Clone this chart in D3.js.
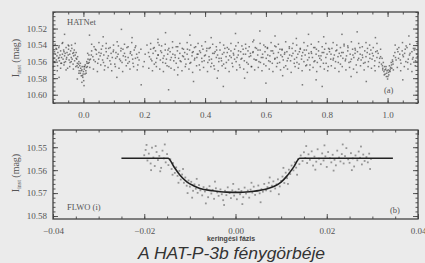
<!DOCTYPE html>
<html><head><meta charset="utf-8">
<script src="https://cdn.jsdelivr.net/npm/d3@7"></script>
<style>
html,body{margin:0;padding:0;background:#ebebeb;}
svg{display:block;}
</style></head>
<body>
<svg id="c" width="425" height="263"></svg>
<script>
// ---------- DATA ----------
const hatPhase = [
-0.097,-0.095,-0.094,-0.092,-0.090,-0.089,-0.087,-0.085,-0.084,-0.082,
-0.080,-0.079,-0.077,-0.075,-0.074,-0.072,-0.070,-0.069,-0.067,-0.065,
-0.064,-0.062,-0.060,-0.059,-0.057,-0.055,-0.054,-0.052,-0.050,-0.049,
-0.047,-0.045,-0.044,-0.042,-0.040,-0.039,-0.037,-0.035,-0.034,-0.032,
-0.030,-0.029,-0.027,-0.025,-0.024,-0.022,-0.020,-0.019,-0.017,-0.015,
-0.014,-0.012,-0.010,-0.009,-0.007,-0.005,-0.004,-0.002,0.000,0.001,
0.003,0.005,0.006,0.008,0.010,0.011,0.013,0.015,0.016,0.018,0.020,
0.023,0.027,0.031,0.035,0.039,0.043,0.047,0.051,0.055,0.059,
0.063,0.067,0.071,0.075,0.079,0.083,0.087,0.091,0.095,0.099,
0.103,0.107,0.111,0.115,0.119,0.123,0.127,0.131,0.135,0.139,
0.143,0.147,0.151,0.155,0.159,0.163,0.167,0.171,0.175,0.179,0.183,
0.217,0.221,0.225,0.229,0.233,0.237,0.241,0.245,0.249,0.253,
0.257,0.261,0.265,0.269,0.273,0.277,0.281,0.285,0.289,0.293,
0.297,0.301,0.305,0.309,0.313,0.317,0.321,0.325,0.329,0.333,
0.337,0.341,0.345,0.349,0.353,0.357,0.361,0.365,0.369,0.373,
0.377,0.381,0.385,0.389,0.393,0.397,0.401,0.405,0.409,0.413,
0.417,0.421,0.425,0.429,0.433,0.437,0.441,0.445,0.449,0.453,
0.457,0.461,0.465,0.469,0.473,0.477,0.481,0.485,0.489,0.493,
0.497,0.501,0.505,0.509,0.513,0.517,0.521,0.525,0.529,0.533,
0.537,0.541,0.545,0.549,0.553,0.557,0.561,0.565,0.569,0.573,
0.577,0.581,0.585,0.589,0.593,0.597,0.601,0.605,0.609,0.613,
0.617,0.621,0.625,0.629,0.633,0.637,0.641,0.645,0.649,0.653,
0.657,0.661,0.665,0.669,0.673,0.677,0.681,0.685,0.689,0.693,
0.697,0.701,0.705,0.709,0.713,0.717,0.721,0.725,0.729,0.733,
0.737,0.741,0.745,0.749,0.753,0.757,0.761,0.765,0.769,0.773,
0.777,0.781,0.785,0.789,0.793,0.797,0.801,0.805,0.809,0.813,
0.817,0.821,0.825,0.829,0.833,0.837,0.841,0.845,0.849,0.853,
0.857,0.861,0.865,0.869,0.873,0.877,0.881,0.885,0.889,0.893,
0.897,0.901,0.905,0.909,0.913,0.917,0.921,0.925,0.929,0.933,
0.937,0.941,0.945,0.949,0.953,0.957,0.961,0.965,0.969,0.973,0.977,
0.980,0.982,0.984,0.986,0.988,0.990,0.992,0.994,0.996,0.998,
1.000,1.002,1.004,1.006,1.008,1.010,1.012,1.014,1.016,1.018,1.020,
1.024,1.028,1.032,1.036,1.040,1.044,1.048,1.052,1.056,1.060,
1.064,1.068,1.072,1.076,1.080,1.084,1.088,1.092,1.096,
-0.096,-0.088,-0.080,-0.072,-0.064,-0.056,-0.048,-0.040,-0.032,-0.024,
-0.016,-0.008,-0.001,0.004,0.012,0.019,0.026,0.034,0.042,0.050,
0.058,0.066,0.074,0.082,0.090,0.098,0.106,0.114,0.122,0.130,
0.138,0.146,0.154,0.162,0.170,0.178,0.200,0.214,0.222,0.230,
0.238,0.246,0.254,0.262,0.270,0.278,0.286,0.294,0.302,0.310,
0.318,0.326,0.334,0.342,0.350,0.358,0.366,0.374,0.382,0.390,
0.398,0.406,0.414,0.422,0.430,0.438,0.446,0.454,0.462,0.470,
0.478,0.486,0.494,0.502,0.510,0.518,0.526,0.534,0.542,0.550,
0.558,0.566,0.574,0.582,0.590,0.598,0.606,0.614,0.622,0.630,
0.638,0.646,0.654,0.662,0.670,0.678,0.686,0.694,0.702,0.710,
0.718,0.726,0.734,0.742,0.750,0.758,0.766,0.774,0.782,0.790,
0.798,0.806,0.814,0.822,0.830,0.838,0.846,0.854,0.862,0.870,
0.878,0.886,0.894,0.902,0.910,0.918,0.926,0.934,0.942,0.950,
0.958,0.966,0.974,0.983,0.991,0.997,1.003,1.009,1.017,1.026,
1.034,1.042,1.050,1.058,1.066,1.074,1.082,1.090,1.098,
-0.062,-0.020,-0.005,0.065,0.110,0.125,0.190,0.245,0.280,0.310,
0.350,0.362,0.420,0.460,0.500,0.530,0.560,0.600,0.630,0.655,
0.700,0.720,0.765,0.790,0.785,0.850,0.880,0.900,0.930,0.960,
1.050,1.070,0.020,-0.080,0.160,0.270,0.440,0.580,0.740,0.002,
-0.099,-0.093,-0.086,-0.081,-0.075,-0.068,-0.063,-0.057,-0.050,-0.045,
-0.038,-0.033,-0.027,-0.021,-0.015,-0.010,-0.003,0.002,0.009,0.014,
0.021,0.027,0.033,0.039,0.046,0.051,0.057,0.063,0.069,0.075,
0.081,0.088,0.093,0.099,0.105,0.111,0.117,0.124,0.129,0.135,
0.141,0.147,0.153,0.159,0.165,0.172,0.177,0.183,0.189,0.196,
0.203,0.209,0.215,0.221,0.227,0.233,0.240,0.245,0.251,0.257,
0.263,0.269,0.275,0.281,0.288,0.293,0.299,0.305,0.311,0.317,
0.324,0.329,0.335,0.341,0.347,0.353,0.359,0.365,0.372,0.377,
0.383,0.389,0.395,0.401,0.408,0.413,0.419,0.425,0.431,0.437,
0.443,0.449,0.456,0.461,0.467,0.473,0.479,0.485,0.491,0.497,
0.504,0.509,0.515,0.521,0.527,0.533,0.539,0.545,0.552,0.557,
0.563,0.569,0.575,0.581,0.587,0.593,0.600,0.605,0.611,0.617,
0.623,0.629,0.635,0.641,0.648,0.653,0.659,0.665,0.671,0.677,
0.683,0.689,0.696,0.701,0.707,0.713,0.719,0.725,0.731,0.737,
0.744,0.749,0.755,0.761,0.767,0.773,0.779,0.785,0.792,0.797,
0.803,0.809,0.815,0.821,0.827,0.833,0.840,0.845,0.851,0.857,
0.863,0.869,0.875,0.881,0.888,0.893,0.899,0.905,0.911,0.917,
0.923,0.929,0.936,0.941,0.947,0.953,0.959,0.965,0.971,0.977,
0.984,0.989,0.995,1.001,1.007,1.013,1.019,1.025,1.032,1.037,
1.043,1.049,1.055,1.061,1.067,1.073,1.080,1.085,1.091,1.097
];
const hatMag = [
10.556,10.548,10.561,10.551,10.544,10.558,10.553,10.565,10.549,10.556,
10.541,10.559,10.552,10.547,10.562,10.555,10.538,10.551,10.557,10.546,
10.564,10.553,10.550,10.560,10.543,10.555,10.549,10.568,10.552,10.545,
10.558,10.551,10.561,10.547,10.555,10.540,10.557,10.550,10.563,10.553,
10.546,10.559,10.552,10.566,10.549,10.557,10.562,10.554,10.567,10.560,
10.571,10.565,10.574,10.568,10.577,10.570,10.566,10.579,10.572,10.583,
10.569,10.575,10.564,10.571,10.567,10.560,10.566,10.557,10.562,10.552,10.558,
10.557,10.547,10.554,10.542,10.560,10.551,10.562,10.549,10.553,10.545,
10.558,10.552,10.565,10.548,10.556,10.544,10.559,10.550,10.555,10.546,
10.563,10.549,10.554,10.541,10.557,10.547,10.561,10.553,10.550,10.558,
10.543,10.555,10.560,10.548,10.552,10.562,10.546,10.556,10.551,10.564,10.549,
10.554,10.545,10.559,10.550,10.563,10.547,10.556,10.552,10.540,10.558,
10.549,10.561,10.553,10.546,10.557,10.551,10.566,10.548,10.555,10.543,
10.559,10.552,10.562,10.547,10.556,10.550,10.560,10.544,10.554,10.549,
10.563,10.551,10.557,10.546,10.561,10.553,10.548,10.558,10.542,10.555,
10.551,10.564,10.549,10.556,10.545,10.559,10.552,10.547,10.561,10.554,
10.543,10.557,10.550,10.565,10.548,10.555,10.552,10.560,10.546,10.556,
10.551,10.563,10.544,10.554,10.549,10.558,10.553,10.547,10.562,10.550,
10.557,10.541,10.555,10.552,10.564,10.548,10.556,10.545,10.559,10.551,
10.561,10.547,10.554,10.550,10.566,10.549,10.557,10.543,10.558,10.552,
10.560,10.546,10.555,10.551,10.563,10.548,10.556,10.544,10.559,10.553,
10.547,10.562,10.550,10.557,10.542,10.555,10.549,10.561,10.552,10.546,
10.558,10.551,10.565,10.548,10.556,10.544,10.559,10.553,10.550,10.562,
10.547,10.555,10.551,10.563,10.545,10.557,10.549,10.560,10.552,10.546,
10.558,10.550,10.564,10.548,10.555,10.543,10.559,10.551,10.561,10.547,
10.556,10.553,10.549,10.562,10.545,10.555,10.551,10.566,10.548,10.557,
10.544,10.558,10.552,10.560,10.546,10.554,10.550,10.563,10.549,10.556,
10.541,10.559,10.553,10.547,10.561,10.551,10.557,10.545,10.555,10.550,
10.564,10.548,10.556,10.543,10.558,10.552,10.562,10.547,10.554,10.549,
10.560,10.551,10.546,10.557,10.553,10.565,10.548,10.555,10.550,10.561,10.554,
10.563,10.556,10.568,10.561,10.572,10.566,10.575,10.569,10.578,10.571,
10.581,10.570,10.576,10.565,10.572,10.567,10.561,10.568,10.558,10.563,10.553,
10.549,10.558,10.545,10.556,10.551,10.562,10.547,10.554,10.550,10.560,
10.543,10.557,10.552,10.563,10.548,10.555,10.546,10.559,10.551,
10.560,10.545,10.555,10.562,10.548,10.557,10.541,10.560,10.549,10.556,
10.563,10.571,10.575,10.566,10.562,10.561,10.552,10.558,10.546,10.557,
10.550,10.561,10.544,10.553,10.563,10.548,10.556,10.551,10.559,10.545,
10.554,10.562,10.550,10.557,10.543,10.555,10.560,10.549,10.557,10.544,
10.561,10.552,10.547,10.556,10.562,10.546,10.558,10.551,10.555,10.542,
10.559,10.553,10.557,10.545,10.562,10.549,10.556,10.551,10.547,10.560,
10.553,10.544,10.558,10.562,10.550,10.546,10.556,10.559,10.549,10.561,
10.545,10.555,10.552,10.560,10.547,10.557,10.551,10.544,10.563,10.553,
10.548,10.558,10.546,10.561,10.555,10.542,10.552,10.560,10.547,10.556,
10.562,10.545,10.554,10.549,10.559,10.552,10.544,10.557,10.561,10.548,
10.553,10.546,10.564,10.555,10.550,10.560,10.545,10.553,10.558,10.549,
10.562,10.544,10.551,10.556,10.547,10.561,10.553,10.549,10.557,10.543,
10.560,10.552,10.546,10.558,10.551,10.555,10.561,10.544,10.556,10.550,
10.559,10.547,10.556,10.565,10.570,10.574,10.573,10.569,10.560,10.555,
10.548,10.558,10.552,10.545,10.561,10.550,10.557,10.544,10.554,
10.527,10.581,10.585,10.530,10.579,10.521,10.588,10.533,10.594,10.576,
10.528,10.584,10.531,10.590,10.526,10.580,10.534,10.586,10.529,10.577,
10.532,10.588,10.582,10.530,10.590,10.527,10.578,10.524,10.584,10.531,
10.582,10.529,10.528,10.579,10.531,10.525,10.580,10.523,10.527,10.589,
10.566,10.539,10.571,10.543,10.568,10.537,10.561,10.570,10.540,10.566,
10.544,10.569,10.538,10.565,10.574,10.562,10.577,10.566,10.574,10.550,
10.567,10.539,10.569,10.545,10.572,10.537,10.564,10.541,10.570,10.538,
10.567,10.543,10.571,10.540,10.566,10.536,10.568,10.544,10.572,10.539,
10.565,10.542,10.569,10.537,10.566,10.541,10.570,10.558,10.545,10.566,
10.551,10.540,10.568,10.538,10.571,10.543,10.566,10.537,10.569,10.541,
10.572,10.539,10.565,10.544,10.568,10.536,10.570,10.542,10.567,10.538,
10.571,10.545,10.566,10.537,10.569,10.540,10.573,10.543,10.565,10.538,
10.570,10.541,10.567,10.536,10.572,10.544,10.566,10.539,10.569,10.542,
10.571,10.537,10.565,10.540,10.568,10.543,10.572,10.538,10.566,10.545,
10.570,10.537,10.567,10.541,10.569,10.539,10.573,10.542,10.566,10.536,
10.570,10.544,10.567,10.538,10.571,10.540,10.565,10.543,10.569,10.537,
10.572,10.541,10.566,10.539,10.570,10.545,10.567,10.536,10.569,10.542,
10.573,10.538,10.566,10.540,10.568,10.544,10.571,10.537,10.565,10.541,
10.570,10.539,10.567,10.543,10.572,10.536,10.566,10.542,10.569,10.538,
10.571,10.545,10.565,10.537,10.568,10.540,10.572,10.543,10.566,10.539,
10.570,10.541,10.567,10.536,10.569,10.544,10.573,10.538,10.565,10.542,
10.570,10.537,10.566,10.540,10.568,10.543,10.571,10.538,10.566,10.545,
10.570,10.576,10.566,10.578,10.571,10.564,10.570,10.540,10.567,10.543,
10.571,10.537,10.566,10.541,10.569,10.539,10.572,10.544,10.565,10.538
];
const flwoPhase = [
-0.0200,-0.0197,-0.0193,-0.0190,-0.0186,-0.0183,-0.0180,-0.0177,-0.0173,-0.0170,
-0.0167,-0.0163,-0.0160,-0.0157,-0.0153,-0.0150,-0.0147,-0.0143,-0.0140,-0.0137,
-0.0133,-0.0130,-0.0127,-0.0123,-0.0120,-0.0117,-0.0113,-0.0110,-0.0107,-0.0103,
-0.0100,-0.0097,-0.0093,-0.0090,-0.0087,-0.0083,-0.0080,-0.0077,-0.0073,-0.0070,
-0.0067,-0.0063,-0.0060,-0.0057,-0.0053,-0.0050,-0.0047,-0.0043,-0.0040,-0.0037,
-0.0033,-0.0030,-0.0027,-0.0023,-0.0020,-0.0017,-0.0013,-0.0010,-0.0007,-0.0003,
0.0000,0.0003,0.0007,0.0010,0.0013,0.0017,0.0020,0.0023,0.0027,0.0030,
0.0033,0.0037,0.0040,0.0043,0.0047,0.0050,0.0053,0.0057,0.0060,0.0063,
0.0067,0.0070,0.0073,0.0077,0.0080,0.0083,0.0087,0.0090,0.0093,0.0097,
0.0100,0.0103,0.0107,0.0110,0.0113,0.0117,0.0120,0.0123,0.0127,0.0130,
0.0133,0.0137,0.0140,0.0143,0.0147,0.0150,0.0153,0.0157,0.0160,0.0163,
0.0167,0.0170,0.0173,0.0177,0.0180,0.0183,0.0187,0.0190,0.0193,0.0197,
0.0200,0.0203,0.0207,0.0210,0.0213,0.0217,0.0220,0.0223,0.0227,0.0230,
0.0233,0.0237,0.0240,0.0243,0.0247,0.0250,0.0253,0.0257,0.0260,0.0263,
0.0267,0.0270,0.0273,0.0277,0.0280,0.0283,0.0287,0.0290,0.0293,0.0297,
-0.0195,-0.0185,-0.0175,-0.0165,-0.0155,-0.0138,-0.0125,-0.0115,-0.0095,-0.0085,
-0.0065,-0.0045,-0.0025,-0.0005,0.0015,0.0035,0.0055,0.0075,0.0095,0.0115,
0.0135,0.0155,0.0175,0.0195,0.0215,0.0235,0.0255,0.0275,0.0295,-0.0105,0.0105
];
const flwoMag = [
10.5535,10.5512,10.5558,10.5528,10.5571,10.5502,10.5545,10.5582,10.5521,10.5556,
10.5538,10.5590,10.5515,10.5549,10.5566,10.5530,10.5578,10.5552,10.5595,10.5569,
10.5612,10.5588,10.5625,10.5603,10.5641,10.5619,10.5655,10.5632,10.5668,10.5645,
10.5672,10.5651,10.5690,10.5662,10.5681,10.5699,10.5665,10.5688,10.5710,10.5674,
10.5693,10.5681,10.5718,10.5670,10.5702,10.5686,10.5725,10.5679,10.5697,10.5712,
10.5684,10.5705,10.5731,10.5690,10.5709,10.5675,10.5700,10.5722,10.5688,10.5711,
10.5694,10.5727,10.5683,10.5705,10.5691,10.5718,10.5676,10.5702,10.5689,10.5720,
10.5685,10.5698,10.5672,10.5708,10.5690,10.5667,10.5701,10.5683,10.5694,10.5660,
10.5688,10.5674,10.5655,10.5692,10.5668,10.5649,10.5680,10.5662,10.5640,10.5671,
10.5647,10.5628,10.5656,10.5611,10.5635,10.5598,10.5617,10.5580,10.5601,10.5566,
10.5589,10.5552,10.5574,10.5536,10.5560,10.5522,10.5547,10.5569,10.5531,10.5555,
10.5518,10.5580,10.5541,10.5563,10.5509,10.5550,10.5574,10.5527,10.5558,10.5540,
10.5586,10.5521,10.5548,10.5566,10.5533,10.5555,10.5579,10.5515,10.5545,10.5562,
10.5530,10.5571,10.5539,10.5504,10.5553,10.5568,10.5526,10.5549,10.5584,10.5536,
10.5557,10.5519,10.5546,10.5575,10.5532,10.5560,10.5543,10.5566,10.5528,10.5551,
10.5490,10.5600,10.5495,10.5605,10.5488,10.5620,10.5655,10.5595,10.5720,10.5638,
10.5745,10.5650,10.5752,10.5660,10.5748,10.5655,10.5740,10.5632,10.5705,10.5660,
10.5620,10.5495,10.5598,10.5492,10.5602,10.5488,10.5600,10.5497,10.5595,10.5700,10.5590
];
const modelPhase = [-0.025,-0.0148,-0.0135,-0.0122,-0.0106,-0.0092,-0.0078,-0.005,-0.002,0.001,0.004,0.0068,0.0085,0.0100,0.0113,0.0127,0.0141,0.0345];
const modelMag   = [10.5548,10.5548,10.5585,10.5621,10.5652,10.5668,10.5680,10.5690,10.5696,10.5697,10.5692,10.5682,10.5670,10.5652,10.5625,10.5588,10.5548,10.5548];

const topXTicks = [0.0,0.2,0.4,0.6,0.8,1.0];
const topYTicks = [10.52,10.54,10.56,10.58,10.60];
const botXTicks = [-0.04,-0.02,0.00,0.02,0.04];
const botYTicks = [10.55,10.56,10.57,10.58];
const topLabel = "HATNet", topTag = "(a)";
const botLabel = "FLWO (i)", botTag = "(b)";
const xTitle = "keringési fázis";
const caption = "A HAT-P-3b fénygörbéje";

// ---------- DRAW ----------
const svg = d3.select("#c");
const L = 53, R = 418;
const frameCol = "#444", txtCol = "#555";

function panel(o){
  const g = svg.append("g");
  const x = d3.scaleLinear().domain(o.xd).range([L,R]);
  const y = d3.scaleLinear().domain(o.yd).range([o.top,o.bot]);
  const minorX = d3.range(Math.round(o.xd[0]/o.mx), Math.round(o.xd[1]/o.mx)+1).map(i=>i*o.mx);
  const minorY = d3.range(Math.ceil(o.yd[0]/o.my), Math.floor(o.yd[1]/o.my)+1).map(i=>i*o.my);
  o.draw(g,x,y);
  const ax = (axis, tr, vals, size, fmt, fs)=>{
    const a = g.append("g").attr("transform",tr)
      .call(axis.tickValues(vals).tickSize(size).tickSizeOuter(0).tickPadding(fs?4:0).tickFormat(fmt||""));
    a.select(".domain").remove();
    a.selectAll("line").attr("stroke",frameCol).attr("stroke-width",0.9);
    a.selectAll("text").attr("fill",txtCol).attr("font-family","'Liberation Serif','DejaVu Serif',serif").attr("font-size",9);
    return a;
  };
  ax(d3.axisBottom(x), `translate(0,${o.bot})`, o.xt, -5, d3.format(o.xf), true).selectAll("text").attr("dy","1em").attr("y",6);
  ax(d3.axisBottom(x), `translate(0,${o.bot})`, minorX, -2.5);
  ax(d3.axisTop(x), `translate(0,${o.top})`, o.xt, -5);
  ax(d3.axisTop(x), `translate(0,${o.top})`, minorX, -2.5);
  ax(d3.axisLeft(y), `translate(${L},0)`, o.yt, -5, d3.format(o.yf), true).selectAll("text").attr("x",-6);
  ax(d3.axisLeft(y), `translate(${L},0)`, minorY, -2.5);
  ax(d3.axisRight(y), `translate(${R},0)`, o.yt, -5);
  ax(d3.axisRight(y), `translate(${R},0)`, minorY, -2.5);
  g.append("rect").attr("x",L).attr("y",o.top).attr("width",R-L).attr("height",o.bot-o.top)
    .attr("fill","none").attr("stroke",frameCol).attr("stroke-width",1.3);
  const yl = g.append("text").attr("transform",`translate(19,${o.ylc}) rotate(-90)`)
    .attr("text-anchor","middle").attr("fill",txtCol)
    .attr("font-family","'Liberation Serif','DejaVu Serif',serif").attr("font-size",10);
  yl.append("tspan").text("I");
  yl.append("tspan").attr("font-size",6).attr("dy",2).text("inst");
  yl.append("tspan").attr("dy",-2).text(" (mag)");
  g.append("text").attr("x",67).attr("y",o.lblY).attr("fill",txtCol)
    .attr("font-family","'Liberation Serif','DejaVu Serif',serif").attr("font-size",8.5).text(o.label);
  g.append("text").attr("x",o.tagX).attr("y",o.tagY).attr("fill",txtCol)
    .attr("font-family","'Liberation Serif','DejaVu Serif',serif").attr("font-size",8.5).text(o.tag);
  return {x,y};
}

panel({
  xd:[-0.1,1.1], yd:[10.50,10.61], top:12, bot:103, mx:0.05, my:0.005,
  xt:topXTicks, yt:topYTicks, xf:".1f", yf:".2f", ylc:58,
  label:topLabel, lblY:25, tag:topTag, tagX:384, tagY:93,
  draw:(g,x,y)=>{
    g.append("g").selectAll("rect").data(hatPhase.map((p,i)=>[p,hatMag[i]])).join("rect")
      .attr("x",d=>x(d[0])-0.75).attr("y",d=>y(d[1])-0.75).attr("width",1.5).attr("height",1.5)
      .attr("fill","#2a2a2a").attr("opacity",0.6);
  }
});

panel({
  xd:[-0.04,0.04], yd:[10.5425,10.5813], top:130, bot:219, mx:0.005, my:0.002,
  xt:botXTicks, yt:botYTicks, xf:".2f", yf:".2f", ylc:173,
  label:botLabel, lblY:210, tag:botTag, tagX:390, tagY:213,
  draw:(g,x,y)=>{
    g.append("g").selectAll("rect").data(flwoPhase.map((p,i)=>[p,flwoMag[i]])).join("rect")
      .attr("x",d=>x(d[0])-0.9).attr("y",d=>y(d[1])-0.9).attr("width",1.8).attr("height",1.8)
      .attr("fill","#777").attr("opacity",0.75);
    g.append("path").datum(modelPhase.map((p,i)=>[p,modelMag[i]]))
      .attr("d",d3.line().x(d=>x(d[0])).y(d=>y(d[1])).curve(d3.curveMonotoneX))
      .attr("fill","none").attr("stroke","#222").attr("stroke-width",1.6);
  }
});

svg.append("text").attr("x",231).attr("y",241).attr("text-anchor","middle")
  .attr("fill","#444").attr("font-family","'Liberation Sans',Arial,sans-serif")
  .attr("font-weight","bold").attr("font-size",7).text(xTitle);
svg.append("text").attr("x",138).attr("y",259)
  .attr("fill","#333").attr("font-family","'Liberation Sans',Arial,sans-serif")
  .attr("font-style","italic").attr("font-size",17)
  .attr("textLength",187).attr("lengthAdjust","spacingAndGlyphs").text(caption);
</script>
</body></html>
